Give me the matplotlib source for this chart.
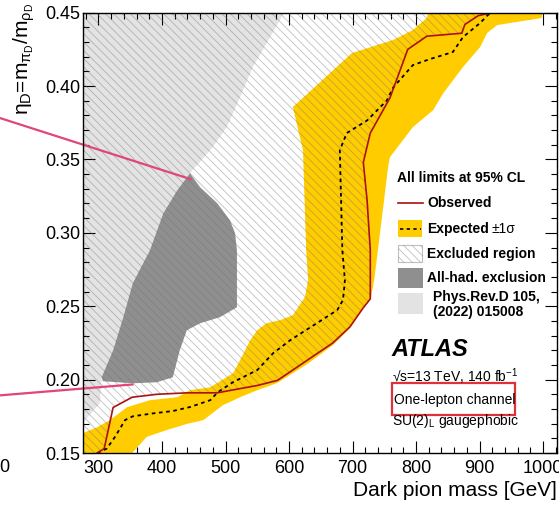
import matplotlib.pyplot as plt
from matplotlib.patches import Rectangle
from matplotlib.ticker import MultipleLocator, FormatStrFormatter

plt.rcParams['font.family'] = ['Liberation Sans', 'DejaVu Sans']
plt.rcParams['mathtext.default'] = 'regular'
plt.rcParams['hatch.linewidth'] = 0.6

# Observed limit (dark pion mass [GeV], eta_D)
obs_mass = [298, 309, 323, 353, 392, 440, 487, 512, 550, 582, 628, 669, 696, 717, 728,
            728, 723, 717, 728, 759, 787, 817, 872, 877, 898, 919]
obs_eta = [0.150, 0.153, 0.181, 0.188, 0.190, 0.191, 0.191, 0.193, 0.196, 0.1995, 0.213,
           0.225, 0.236, 0.249, 0.255, 0.288, 0.322, 0.348, 0.368, 0.392, 0.425, 0.434,
           0.436, 0.442, 0.448, 0.450]

# Expected limit
exp_mass = [298, 313, 326, 342, 354, 386, 417, 444, 476, 488, 512, 550, 575, 602, 644,
            676, 685, 688, 684, 680, 691, 723, 754, 764, 795, 822, 858, 874, 901, 913, 919]
exp_eta = [0.150, 0.153, 0.161, 0.1725, 0.175, 0.177, 0.1786, 0.1813, 0.186, 0.1915,
           0.1983, 0.2065, 0.218, 0.2269, 0.2385, 0.2474, 0.2542, 0.2678, 0.288, 0.3564,
           0.368, 0.3766, 0.3902, 0.399, 0.4143, 0.4184, 0.4232, 0.4334, 0.443, 0.4484, 0.450]

# +-1 sigma band: upper/left edge (bottom -> top), lower/right edge (top -> bottom)
band_hi_mass = [270, 298, 318, 345, 381, 424, 444, 476, 512, 523, 539, 550, 565, 586, 606,
                625, 630, 627, 622, 606, 699, 764, 795, 817, 819]
band_hi_eta = [0.1625, 0.1676, 0.1724, 0.1812, 0.1860, 0.188, 0.1928, 0.1948, 0.2044,
               0.2133, 0.2269, 0.2337, 0.2385, 0.2405, 0.2439, 0.2562, 0.2677, 0.2882,
               0.3564, 0.3857, 0.4225, 0.4314, 0.4382, 0.4464, 0.450]
band_lo_mass = [999, 998, 928, 912, 901, 874, 843, 827, 795, 759, 756, 740, 734, 729, 716,
                696, 669, 628, 581, 550, 523, 496, 465, 439, 408, 376, 353, 345, 270]
band_lo_eta = [0.450, 0.4464, 0.4416, 0.4362, 0.4266, 0.413, 0.3952, 0.3836, 0.372, 0.3516,
               0.3448, 0.2882, 0.2677, 0.2555, 0.248, 0.235, 0.2234, 0.2104, 0.1976, 0.1928,
               0.188, 0.1826, 0.1724, 0.1698, 0.1657, 0.161, 0.150, 0.145, 0.145]

# All-hadronic exclusion contour
had_mass = [444, 460, 487, 507, 515, 518, 518, 491, 460, 439, 428, 417, 392, 354, 307,
            305, 323, 339, 354, 381, 402, 424]
had_eta = [0.3406, 0.3311, 0.3202, 0.3086, 0.2998, 0.2882, 0.2493, 0.2425, 0.2384, 0.2336,
           0.220, 0.2016, 0.1982, 0.1975, 0.1989, 0.2016, 0.220, 0.2425, 0.2657, 0.2882,
           0.3133, 0.329]

# Phys.Rev.D 105 (2022) 015008 region
prd_mass = [270, 592, 565, 543, 523, 502, 480, 444, 424, 402, 381, 354, 339, 323, 305,
            302, 275, 270]
prd_eta = [0.450, 0.450, 0.4293, 0.413, 0.3925, 0.372, 0.3584, 0.3406, 0.329, 0.3133,
           0.2882, 0.2657, 0.2425, 0.220, 0.2009, 0.1839, 0.1703, 0.1703]

# pink pointer lines (from outside the frame)
ptr1_mass = [140, 445]
ptr1_eta = [0.3789, 0.3366]
ptr2_mass = [140, 353.5]
ptr2_eta = [0.1891, 0.1967]

W, H = 559, 505
fig = plt.figure(figsize=(W / 100, H / 100), dpi=100)
ax = fig.add_axes([83 / W, 52 / H, 474 / W, 440.3 / H])

hatch_col = (0.45, 0.45, 0.45, 0.45)

ax.fill(prd_mass, prd_eta, color='#e3e3e3', lw=0, zorder=1)
ax.fill(had_mass, had_eta, color='#8f8f8f', lw=0, zorder=2)
ax.fill(band_hi_mass + band_lo_mass, band_hi_eta + band_lo_eta, color='#ffcc00', lw=0, zorder=3)

excl_mass = obs_mass + [919, 270, 270, 298]
excl_eta = obs_eta + [0.46, 0.46, 0.14, 0.14]
ax.fill(excl_mass, excl_eta, facecolor='none', edgecolor=hatch_col, lw=0,
        hatch='\\\\\\\\', zorder=4)

ax.plot(exp_mass, exp_eta, color='black', lw=1.3, linestyle=(0, (2, 2)), zorder=5)
ax.plot(obs_mass, obs_eta, color='#aa1111', lw=1.2, zorder=6)

ax.plot(ptr1_mass, ptr1_eta, color='#e0457b', lw=1.6, clip_on=False, zorder=10)
ax.plot(ptr2_mass, ptr2_eta, color='#e0457b', lw=1.6, clip_on=False, zorder=10)

ax.set_xlim(275.6, 1022)
ax.set_ylim(0.15, 0.45)
ax.xaxis.set_major_locator(MultipleLocator(100))
ax.xaxis.set_minor_locator(MultipleLocator(20))
ax.yaxis.set_major_locator(MultipleLocator(0.05))
ax.yaxis.set_minor_locator(MultipleLocator(0.01))
ax.yaxis.set_major_formatter(FormatStrFormatter('%.2f'))
ax.tick_params(which='both', direction='in', top=True, right=True, width=0.8, labelsize=13)
ax.tick_params(which='major', length=8.5)
ax.tick_params(which='minor', length=4.3)
ax.tick_params(axis='y', pad=2)
ax.tick_params(axis='x', pad=5)
for s in ax.spines.values():
    s.set_linewidth(1.0)
    s.set_zorder(12)

ax.set_xlabel('Dark pion mass [GeV]', fontsize=15, loc='right')
ax.xaxis.set_label_coords(1.0, -0.064)
ax.set_ylabel(r'η$_{D}$=m$_{π_{D}}$/m$_{ρ_{D}}$', fontsize=15, loc='top')
ax.yaxis.set_label_coords(-0.097, 1.023)


def fx(px):
    return px / W


def fy(py):
    return 1 - py / H


def box(x0, y0, x1, y1, **kw):
    fig.add_artist(Rectangle((fx(x0), fy(y1)), (x1 - x0) / W, (y1 - y0) / H,
                             transform=fig.transFigure, **kw))


# legend
fig.text(fx(397), fy(178), 'All limits at 95% CL', fontsize=10, weight='bold', va='center')
fig.add_artist(plt.Line2D([fx(398), fx(423)], [fy(203), fy(203)], color='#aa1111', lw=1.2))
fig.text(fx(427), fy(203), 'Observed', fontsize=10, weight='bold', va='center')
box(398, 220, 422, 237, facecolor='#ffcc00', edgecolor='none')
fig.add_artist(plt.Line2D([fx(400), fx(421)], [fy(228.5), fy(228.5)], color='black',
                          lw=1.2, linestyle=(0, (2, 2))))
fig.text(fx(427), fy(229), 'Expected', fontsize=10, weight='bold', va='center')
fig.text(fx(492), fy(229), '±1σ', fontsize=10, va='center')
box(398, 245, 422, 262, facecolor='white', edgecolor=hatch_col, lw=0.8, hatch='\\\\\\\\')
fig.text(fx(427), fy(254), 'Excluded region', fontsize=10, weight='bold', va='center')
box(398, 268, 423, 288, facecolor='#8f8f8f', edgecolor='none')
fig.text(fx(427), fy(278), 'All-had. exclusion', fontsize=10, weight='bold', va='center')
box(398, 293, 423, 314, facecolor='#e3e3e3', edgecolor='none')
fig.text(fx(433), fy(297), 'Phys.Rev.D 105,', fontsize=10, weight='bold', va='center')
fig.text(fx(433), fy(312), '(2022) 015008', fontsize=10, weight='bold', va='center')

# labels
fig.text(fx(391), fy(350), 'ATLAS', fontsize=17, weight='bold', style='italic', va='center')
fig.text(fx(392), fy(377), r'√s=13 TeV, 140 fb$^{-1}$', fontsize=10, va='center')
fig.text(fx(394), fy(400), 'One-lepton channel', fontsize=10, va='center')
box(392, 383, 515, 415, fill=False, edgecolor='#e0303a', lw=1.6)
fig.text(fx(392), fy(421), r'SU(2)$_{L}$ gaugephobic', fontsize=10, va='center')

fig.text(fx(9), fy(468), '0', fontsize=13, ha='right', va='center')

fig.savefig('out.png', dpi=100)
